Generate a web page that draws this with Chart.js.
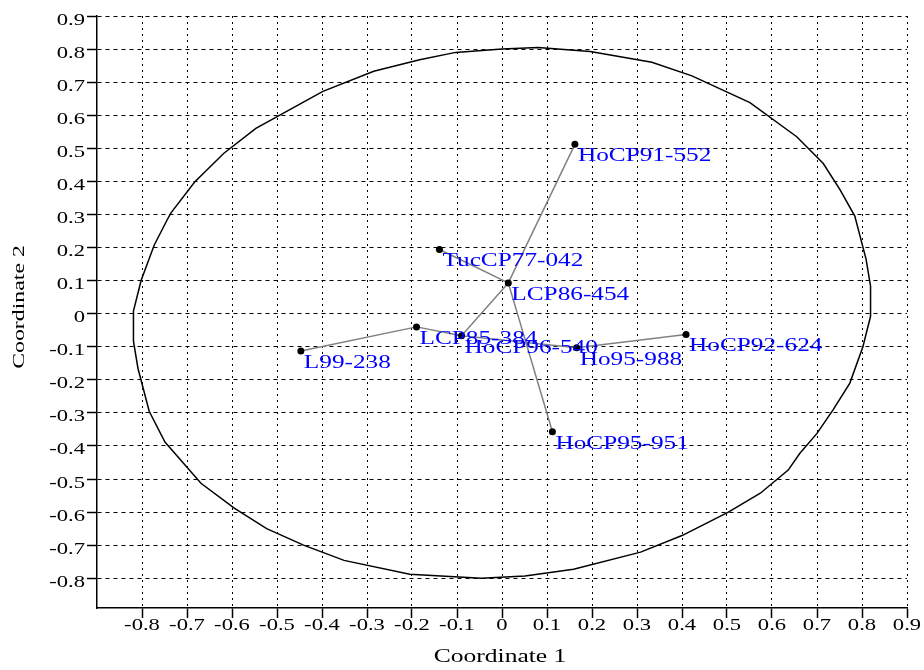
<!DOCTYPE html>
<html>
<head>
<meta charset="utf-8">
<title>Coordinate plot</title>
<script src="https://cdn.jsdelivr.net/npm/chart.js@4.4.0/dist/chart.umd.min.js"></script>
<style>
    html, body { margin: 0; padding: 0; background: #fff; }
    canvas { display: block; }
</style>
</head>
<body>
<canvas id="plot" width="924" height="670"></canvas>
<script>
// Clones and their ordination scores
const names = ['HoCP91-552', 'TucCP77-042', 'LCP86-454', 'LCP85-384', 'HoCP96-540',
               'Ho95-988', 'HoCP92-624', 'L99-238', 'HoCP95-951'];
const coord1 = [0.162, -0.139, 0.014, -0.190, -0.090, 0.166, 0.409, -0.447, 0.112];
const coord2 = [0.512, 0.194, 0.093, -0.040, -0.067, -0.103, -0.063, -0.113, -0.357];

// Minimum spanning tree, as index pairs into the arrays above
const links = [[2, 0], [2, 1], [2, 4], [2, 8], [4, 3], [3, 7], [4, 5], [5, 6]];

// Outline of the ellipse
const ellipseX = [0.000, 0.080, 0.196, 0.333, 0.422, 0.551, 0.655, 0.714, 0.751, 0.784,
                  0.809, 0.819, 0.819, 0.802, 0.773, 0.736, 0.700, 0.662, 0.636, 0.574,
                  0.503, 0.400, 0.308, 0.159, 0.051, -0.046, -0.205, -0.351, -0.441, -0.523,
                  -0.595, -0.669, -0.749, -0.784, -0.809, -0.819, -0.819, -0.802, -0.773, -0.744,
                  -0.736, -0.683, -0.618, -0.547, -0.398, -0.285, -0.183, -0.103, 0.000];
const ellipseY = [0.800, 0.805, 0.793, 0.760, 0.719, 0.638, 0.535, 0.454, 0.375, 0.295,
                  0.165, 0.083, -0.008, -0.100, -0.210, -0.290, -0.362, -0.422, -0.473, -0.543,
                  -0.600, -0.671, -0.721, -0.773, -0.793, -0.800, -0.788, -0.746, -0.700, -0.650,
                  -0.588, -0.513, -0.388, -0.295, -0.165, -0.083, 0.008, 0.100, 0.207, 0.284,
                  0.304, 0.398, 0.485, 0.560, 0.672, 0.733, 0.768, 0.790, 0.800];

const xTicks = [-0.8, -0.7, -0.6, -0.5, -0.4, -0.3, -0.2, -0.1, 0, 0.1, 0.2, 0.3, 0.4, 0.5, 0.6, 0.7, 0.8, 0.9];
const yTicks = [-0.8, -0.7, -0.6, -0.5, -0.4, -0.3, -0.2, -0.1, 0, 0.1, 0.2, 0.3, 0.4, 0.5, 0.6, 0.7, 0.8, 0.9];

const SERIF = '"Liberation Serif", "Times New Roman", serif';
const STRETCH = 1.33; // the original text is drawn a little wide

function fmt(v) {
    return v === 0 ? '0' : v.toFixed(1);
}

function wideText(ctx, text, x, y, size, align, color, stretch) {
    ctx.save();
    ctx.translate(x, y);
    ctx.scale(stretch || STRETCH, 1);
    ctx.font = size + 'px ' + SERIF;
    ctx.fillStyle = color;
    ctx.textAlign = align;
    ctx.textBaseline = 'alphabetic';
    ctx.fillText(text, 0, 0);
    ctx.restore();
}

// tick labels, point names and axis titles
const textLayer = {
    id: 'textLayer',
    afterDraw(chart) {
        const ctx = chart.ctx;
        const xs = chart.scales.x;
        const ys = chart.scales.y;

        xTicks.forEach(v => wideText(ctx, fmt(v), xs.getPixelForValue(v), 630, 17, 'center', '#000'));
        yTicks.forEach(v => wideText(ctx, fmt(v), 85, ys.getPixelForValue(v) + 8.5, 17, 'right', '#000'));

        names.forEach((n, i) => {
            const px = xs.getPixelForValue(coord1[i]);
            const py = ys.getPixelForValue(coord2[i]);
            wideText(ctx, n, px + 3, py + 17, 19, 'left', '#0000ff');
        });

        wideText(ctx, 'Coordinate 1', 500, 662, 18, 'center', '#000', 1.42);

        ctx.save();
        ctx.translate(24, 307);
        ctx.rotate(-Math.PI / 2);
        ctx.scale(1.4, 1);
        ctx.font = '17px ' + SERIF;
        ctx.fillStyle = '#000';
        ctx.textAlign = 'center';
        ctx.fillText('Coordinate 2', 0, 0);
        ctx.restore();
    }
};

const datasets = [];

datasets.push({
    label: 'points',
    data: names.map((n, i) => ({ x: coord1[i], y: coord2[i] })),
    pointRadius: 3.5,
    pointBackgroundColor: '#000',
    pointBorderWidth: 0,
    showLine: false,
    order: 0
});

links.forEach(([a, b]) => {
    datasets.push({
        label: names[a] + ' - ' + names[b],
        data: [{ x: coord1[a], y: coord2[a] }, { x: coord1[b], y: coord2[b] }],
        showLine: true,
        borderColor: '#808080',
        borderWidth: 1.5,
        pointRadius: 0,
        order: 1
    });
});

datasets.push({
    label: 'ellipse',
    data: ellipseX.map((x, i) => ({ x: x, y: ellipseY[i] })),
    showLine: true,
    borderColor: '#000',
    borderWidth: 1.5,
    pointRadius: 0,
    tension: 0,
    order: 2
});

new Chart(document.getElementById('plot'), {
    type: 'scatter',
    data: { datasets: datasets },
    options: {
        responsive: false,
        animation: false,
        layout: { padding: { top: 16, right: 17, left: 0, bottom: 0 } },
        plugins: {
            legend: { display: false },
            tooltip: { enabled: false }
        },
        scales: {
            x: {
                type: 'linear',
                min: -0.9,
                max: 0.9,
                afterBuildTicks: scale => { scale.ticks = xTicks.map(v => ({ value: v })); },
                afterFit: scale => { scale.height = 62; },
                ticks: { display: false },
                grid: { color: '#000', lineWidth: 1, tickLength: 10, tickColor: '#000', tickWidth: 1.5 },
                border: { color: '#000', width: 1.5, dash: [2, 4] }
            },
            y: {
                type: 'linear',
                min: -0.89,
                max: 0.9,
                afterBuildTicks: scale => { scale.ticks = yTicks.map(v => ({ value: v })); },
                afterFit: scale => { scale.width = 97; },
                ticks: { display: false },
                grid: { color: '#000', lineWidth: 1, tickLength: 10, tickColor: '#000', tickWidth: 1.5 },
                border: { color: '#000', width: 1.5, dash: [4, 4] }
            }
        }
    },
    plugins: [textLayer]
});
</script>
</body>
</html>
